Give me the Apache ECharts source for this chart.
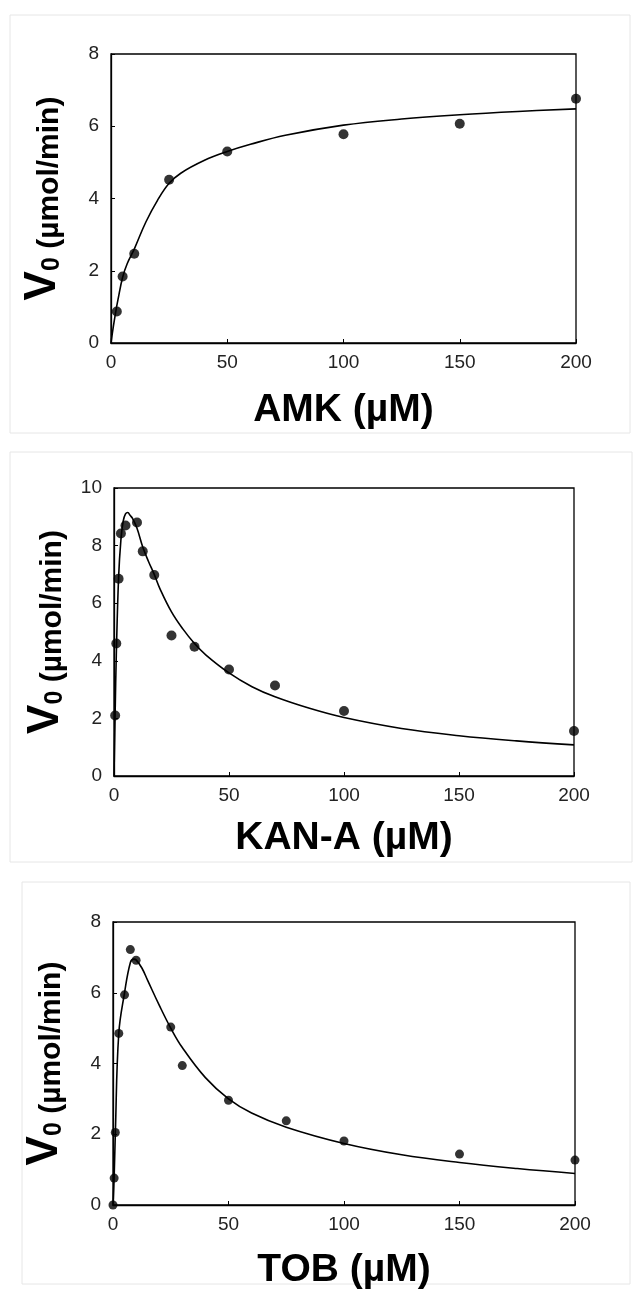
<!DOCTYPE html>
<html>
<head>
<meta charset="utf-8">
<script src="https://cdn.jsdelivr.net/npm/echarts@6/dist/echarts.min.js"></script>
<style>
html,body{margin:0;padding:0;background:#fff;}
#c{width:637px;height:1291px;}
</style>
</head>
<body>
<div id="c"></div>
<script>
// ---- data ----
var xTitles = ['AMK (µM)', 'KAN-A (µM)', 'TOB (µM)'];
var yMax = [8, 10, 8];

var amkPoints = [[2.5,0.87],[5,1.84],[10,2.47],[25,4.52],[50,5.30],[100,5.78],[150,6.07],[200,6.76]];
var amkCurve = [[0,0],[1,0.45],[2,0.85],[3,1.2],[5,1.82],[7,2.2],[10,2.6],[15,3.35],[20,3.95],[25,4.42],[30,4.7],[40,5.05],[50,5.3],[60,5.5],[75,5.75],[100,6.03],[125,6.2],[150,6.32],[175,6.41],[200,6.48]];

var kanPoints = [[0.5,2.1],[1,4.6],[2,6.85],[3,8.42],[5,8.7],[10,8.8],[12.5,7.8],[17.5,6.98],[25,4.88],[35,4.49],[50,3.7],[70,3.14],[100,2.26],[200,1.56]];
var kanCurve = [[0,0],[0.5,2.2],[1,4.2],[2,6.9],[3,8.2],[4,8.85],[5,9.1],[6,9.15],[7,9.05],[8,8.95],[10,8.6],[12.5,7.95],[15,7.45],[17.5,7.0],[20,6.5],[25,5.7],[30,5.1],[35,4.6],[40,4.2],[50,3.58],[60,3.1],[70,2.75],[85,2.35],[100,2.03],[125,1.65],[150,1.4],[175,1.22],[200,1.08]];

var tobPoints = [[0,0],[0.5,0.76],[1,2.05],[2.5,4.85],[5,5.94],[7.5,7.22],[10,6.92],[25,5.03],[30,3.94],[50,2.96],[75,2.38],[100,1.81],[150,1.44],[200,1.27]];
var tobCurve = [[0,0],[0.5,0.8],[1,2.0],[2.5,4.85],[5,6.0],[7.5,6.85],[9,6.95],[10,6.93],[12.5,6.7],[15,6.35],[20,5.65],[25,5.0],[30,4.45],[40,3.6],[50,3.0],[60,2.6],[75,2.2],[100,1.74],[125,1.42],[150,1.2],[175,1.03],[200,0.89]];

var pointSets = [amkPoints, kanPoints, tobPoints];
var curveSets = [amkCurve, kanCurve, tobCurve];

// ---- layout ----
var grids = [
  {left:111, top:54, width:465, height:289},
  {left:114, top:488, width:460, height:288},
  {left:113, top:922, width:462, height:286}
];
var xNameGap = [48, 43, 46];
var dotSize = [10, 10, 9];
var FONT = '"Liberation Sans", Arial, Helvetica, sans-serif';

var option = {
  backgroundColor:'#fff',
  animation:false,
  grid: grids.map(function(g){return Object.assign({show:true, borderColor:'#000', borderWidth:1.3, backgroundColor:'transparent'}, g);}),
  xAxis: grids.map(function(g,i){
    return {
      type:'value', gridIndex:i, min:0, max:200, interval:50,
      axisLine:{show:true, onZero:false, lineStyle:{color:'#000', width:1.3}},
      axisTick:{show:true, inside:true, length:4, lineStyle:{color:'#000'}},
      splitLine:{show:false},
      axisLabel:{color:'#222', fontFamily:FONT, fontSize:19, margin:10},
      name:xTitles[i], nameLocation:'middle', nameGap:xNameGap[i],
      nameTextStyle:{color:'#000', fontFamily:FONT, fontWeight:'bold', fontSize:39}
    };
  }),
  yAxis: grids.map(function(g,i){
    return {
      type:'value', gridIndex:i, min:0, max:yMax[i], interval:2,
      axisLine:{show:true, onZero:false, lineStyle:{color:'#000', width:1.3}},
      axisTick:{show:true, inside:true, length:4, lineStyle:{color:'#000'}},
      splitLine:{show:false},
      axisLabel:{color:'#222', fontFamily:FONT, fontSize:19, margin:12},
      name:'{v|V}{s|0}{u| (µmol/min)}', nameLocation:'middle', nameGap:46, nameRotate:90,
      nameTextStyle:{
        color:'#000', fontFamily:FONT,
        rich:{
          v:{fontFamily:FONT, fontWeight:'bold', fontSize:44, color:'#000', verticalAlign:'bottom'},
          s:{fontFamily:FONT, fontWeight:'bold', fontSize:25, color:'#000', verticalAlign:'bottom'},
          u:{fontFamily:FONT, fontWeight:'bold', fontSize:30, color:'#000', verticalAlign:'bottom'}
        }
      }
    };
  }),
  series: []
};

for (var i=0;i<3;i++){
  option.series.push({
    type:'line', xAxisIndex:i, yAxisIndex:i, data:curveSets[i], smooth:0.4,
    showSymbol:false, symbol:'none', lineStyle:{color:'#000', width:1.6}, clip:true, z:2
  });
  option.series.push({
    type:'scatter', xAxisIndex:i, yAxisIndex:i, data:pointSets[i],
    symbol:'circle', symbolSize:dotSize[i], itemStyle:{color:'#000'}, clip:false, z:3
  });
}

option.graphic = [
  {type:'rect', shape:{x:10, y:15, width:620, height:418}, style:{fill:'none', stroke:'#e6e6e6', lineWidth:1}, silent:true, z:-1},
  {type:'rect', shape:{x:10, y:452, width:622, height:410}, style:{fill:'none', stroke:'#e6e6e6', lineWidth:1}, silent:true, z:-1},
  {type:'rect', shape:{x:22, y:882, width:608, height:402}, style:{fill:'none', stroke:'#e6e6e6', lineWidth:1}, silent:true, z:-1}
];

var chart = echarts.init(document.getElementById('c'), null, {renderer:'canvas'});
chart.setOption(option);
</script>
</body>
</html>
